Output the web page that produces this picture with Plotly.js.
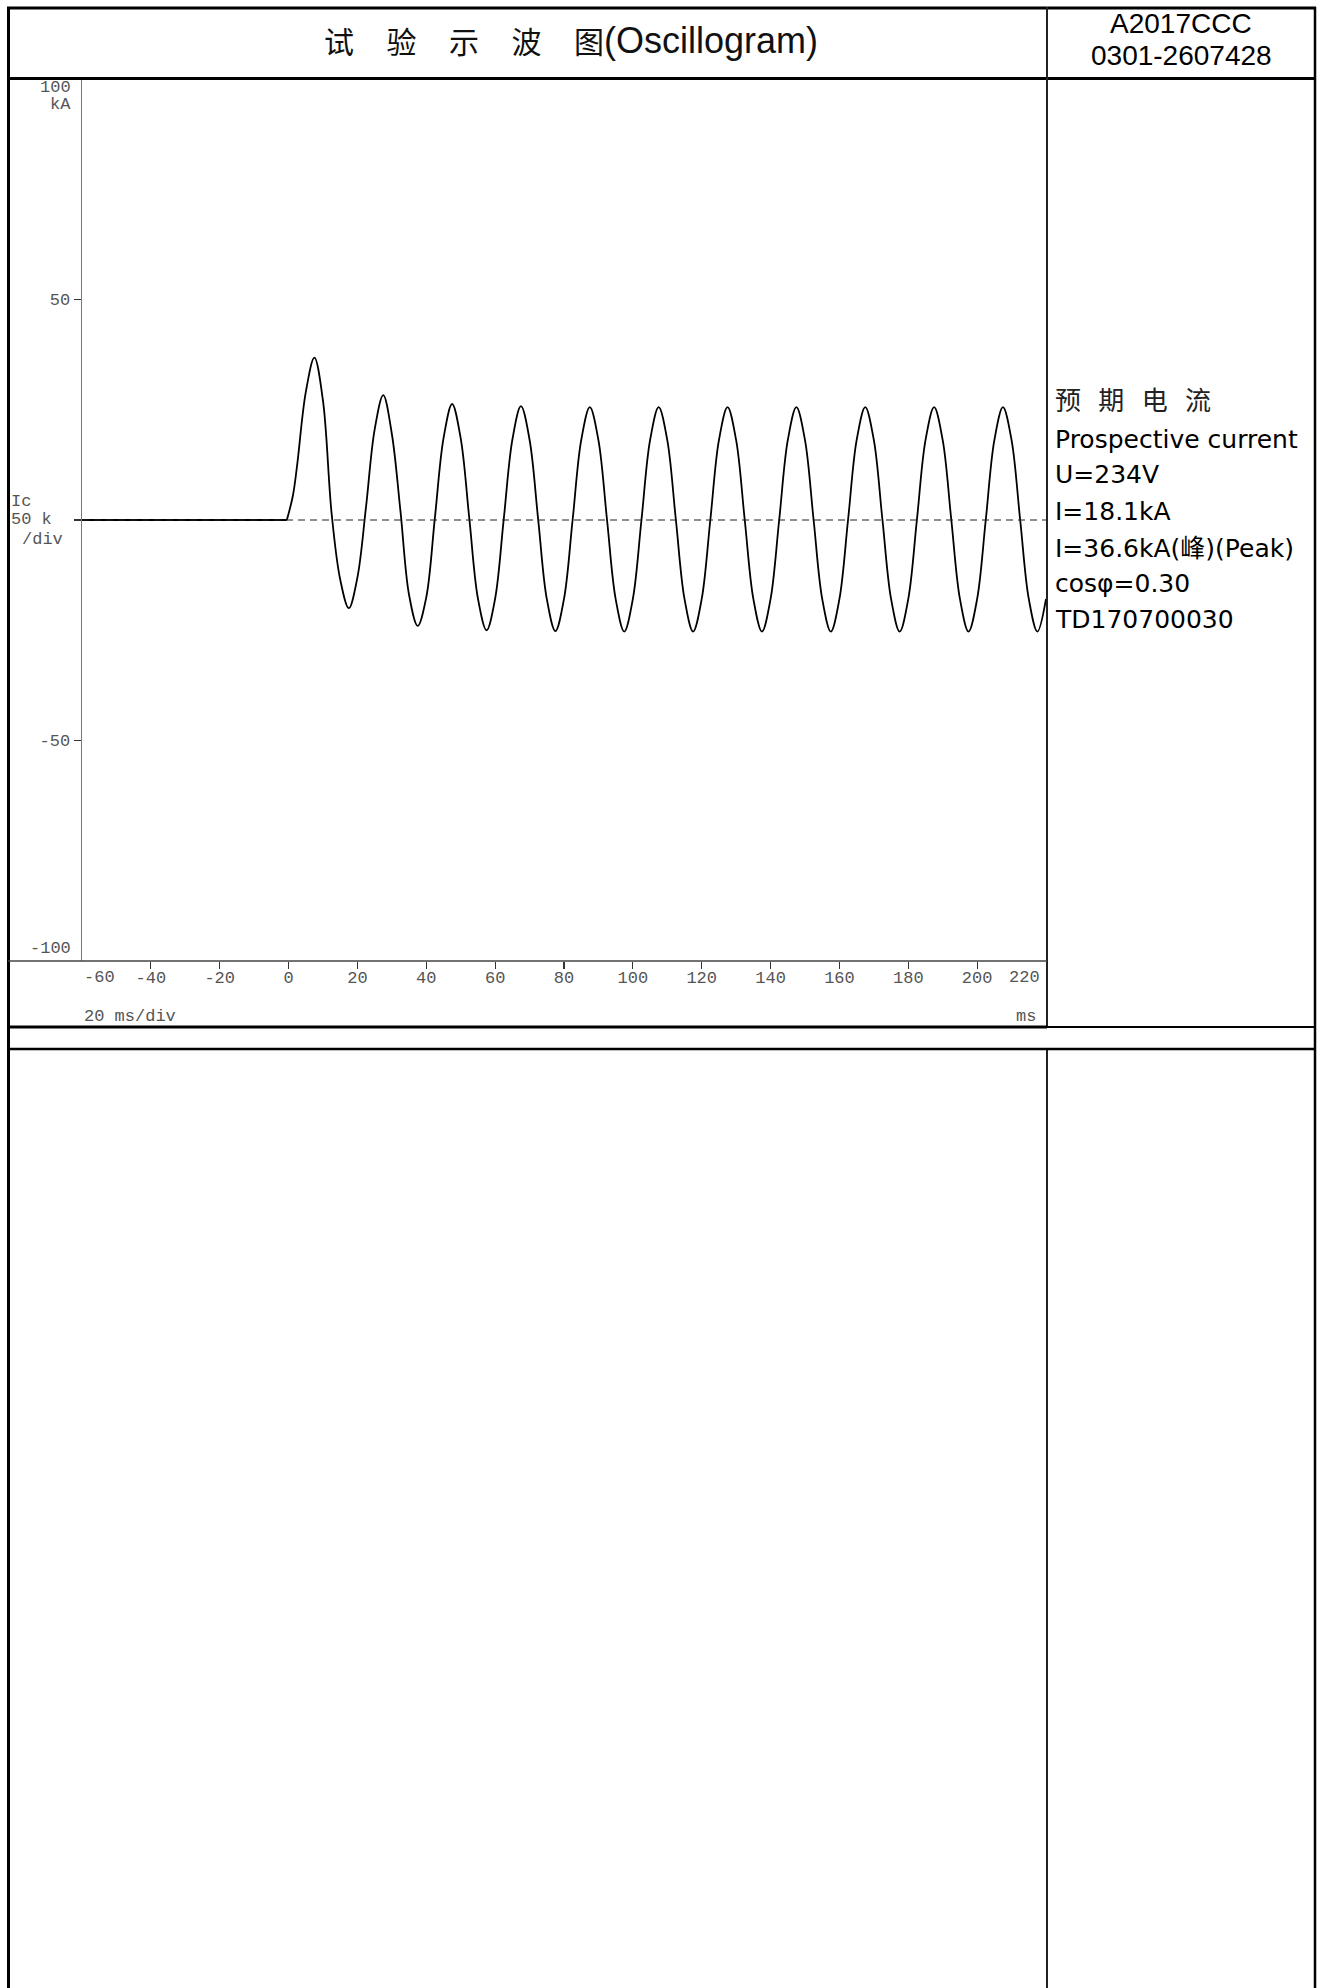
<!DOCTYPE html>
<html><head><meta charset="utf-8">
<script src="https://cdn.plot.ly/plotly-3.0.1.min.js"></script>
<style>html,body{margin:0;padding:0;background:#fff;} #chart{width:1324px;height:1988px;}</style>
</head><body><div id="chart"></div>
<script>
// ---------------- data ----------------
const preTriggerMs = [-60, -0.5];
const preTriggerKA = [0, 0];

const timeMs = [-0.5, 1.25, 2.5, 5, 7.5, 10, 12.5, 15, 17.5, 20,
  22.5, 25, 27.5, 30, 32.5, 35, 37.5, 40,
  42.5, 45, 47.5, 50, 52.5, 55, 57.5, 60,
  62.5, 65, 67.5, 70, 72.5, 75, 77.5, 80,
  82.5, 85, 87.5, 90, 92.5, 95, 97.5, 100,
  102.5, 105, 107.5, 110, 112.5, 115, 117.5, 120,
  122.5, 125, 127.5, 130, 132.5, 135, 137.5, 140,
  142.5, 145, 147.5, 150, 152.5, 155, 157.5, 160,
  162.5, 165, 167.5, 170, 172.5, 175, 177.5, 180,
  182.5, 185, 187.5, 190, 192.5, 195, 197.5, 200,
  202.5, 205, 207.5, 210, 212.5, 215, 217.5, 220];

const currentKA = [0, 5.5, 12.5, 29.0, 36.8, 27.0, 1.5, -13.5, -20.0, -13.0,
  3.0, 20.5, 28.3, 19.5, 2.0, -17.0, -24.0, -17.5,
  0.5, 18.5, 26.3, 18.5, 0.3, -17.8, -25.0, -17.8,
  0.2, 18.2, 25.8, 18.2, 0.1, -17.9, -25.2, -17.9,
  0, 18.1, 25.6, 18.1, 0, -17.9, -25.3, -17.9,
  0, 18.1, 25.6, 18.1, 0, -17.9, -25.3, -17.9,
  0, 18.1, 25.6, 18.1, 0, -17.9, -25.3, -17.9,
  0, 18.1, 25.6, 18.1, 0, -17.9, -25.3, -17.9,
  0, 18.1, 25.6, 18.1, 0, -17.9, -25.3, -17.9,
  0, 18.1, 25.6, 18.1, 0, -17.9, -25.3, -17.9,
  0, 18.1, 25.6, 18.1, 0, -17.9, -25.3, -17.9];

const xRange = [-60, 220];
const yRange = [-100, 100];
const xTickVals = [-40, -20, 0, 20, 40, 60, 80, 100, 120, 140, 160, 180, 200];
const xTickText = ["-40", "-20", "0", "20", "40", "60", "80", "100", "120", "140", "160", "180", "200"];
const xEdgeLabels = ["-60", "220"];
const yTickVals = [50, 0, -50];
const yTickText = ["50", "", "-50"];
const yEdgeLabels = ["100", "-100"];
const yUnitLabel = "kA";
const channelLabel = ["Ic", "50 k", "/div"];
const xScaleLabel = "20 ms/div";
const xUnitLabel = "ms";

const titleCN = "试\u3000\u200A验\u3000\u200A示\u3000\u200A波\u3000\u200A图";
const titleEN = "(Oscillogram)";
const reportNo = ["A2017CCC", "0301-2607428"];
const infoLines = ["预\u2002\u2006期\u2002\u2006电\u2002\u2006流", "Prospective current", "U=234V",
  "I=18.1kA", "I=36.6kA(峰)(Peak)", "cosφ=0.30", "TD170700030"];

// ---------------- layout geometry (pixels) ----------------
const W = 1324, H = 1988;
const L = 82, R = 1046, T = 79, B = 961;
const px = X => (X - L) / (R - L);
const py = Y => (B - Y) / (B - T);

const mono = {family: "Liberation Mono, Courier New, monospace", size: 17, color: "#555"};
const sans = "Liberation Sans, Arial, Noto Sans CJK SC, sans-serif";
const infoFont = "DejaVu Sans, Noto Sans CJK SC, sans-serif";

function hline(Y, X0, X1, w, c) {
  return {type: "line", xref: "paper", yref: "paper", x0: px(X0), x1: px(X1), y0: py(Y), y1: py(Y),
          line: {color: c || "#000", width: w}};
}
function vline(X, Y0, Y1, w, c) {
  return {type: "line", xref: "paper", yref: "paper", x0: px(X), x1: px(X), y0: py(Y0), y1: py(Y1),
          line: {color: c || "#000", width: w}};
}
function ann(text, X, Y, xanchor, font) {
  return {text: text, xref: "paper", yref: "paper", x: px(X), y: py(Y), xanchor: xanchor,
          yanchor: "middle", showarrow: false, font: font, borderpad: 0};
}

const shapes = [
  vline(8.5, 7, H + 5, 3),            // outer left
  hline(8, 7, 1316, 3),               // outer top
  vline(1315, 7, H + 5, 2.5),         // outer right
  hline(78.5, 7, 1316, 3),            // header bottom
  vline(1047, 7, 1027, 2, "#222"),    // divider upper
  vline(1047, 1049, H + 5, 2, "#222"),// divider lower
  hline(961, 8, 1047, 1.5, "#444"),   // x axis line
  hline(1027, 8, 1047, 3),            // band top (left)
  hline(1027, 1047, 1315, 2),         // band top (right)
  hline(1049, 8, 1315, 2.5),          // band bottom
  {type: "line", xref: "x", yref: "y", x0: xRange[0], x1: xRange[1], y0: 0, y1: 0,
   line: {color: "#222", width: 1, dash: "7px,5px"}}
];

const annotations = [
  ann(yEdgeLabels[0], 72, 87, "right", mono),
  ann(yUnitLabel, 72, 105, "right", mono),
  ann(yEdgeLabels[1], 72, 948, "right", mono),
  ann(channelLabel[0], 10, 501, "left", mono),
  ann(channelLabel[1], 10, 519, "left", mono),
  ann(channelLabel[2], 20.5, 539, "left", mono),
  ann(xEdgeLabels[0], 83, 977, "left", mono),
  ann(xEdgeLabels[1], 1041, 977, "right", mono),
  ann(xScaleLabel, 83, 1016, "left", mono),
  ann(xUnitLabel, 1037, 1016, "right", mono),
  ann(titleCN + '<span style="font-size:36px">' + titleEN + '</span>', 323, 40, "left",
      {family: sans, size: 30, color: "#111"}),
  ann(reportNo[0], 1181, 23, "center", {family: sans, size: 28, color: "#000"}),
  ann(reportNo[1], 1181, 55.5, "center", {family: sans, size: 28, color: "#000"})
];
const infoY = [401, 439, 474, 511, 548, 583, 619];
infoLines.forEach((t, i) => {
  annotations.push(ann(t, 1054, infoY[i], "left",
    {family: infoFont, size: i === 0 ? 26 : 25, color: i === 0 ? "#222" : "#000"}));
});

const traces = [
  {x: preTriggerMs, y: preTriggerKA, type: "scatter", mode: "lines",
   line: {color: "#000", width: 2}, hoverinfo: "skip"},
  {x: timeMs, y: currentKA, type: "scatter", mode: "lines",
   line: {color: "#000", width: 1.8, shape: "spline", smoothing: 1}, hoverinfo: "skip"}
];

const layout = {
  width: W, height: H, autosize: false,
  margin: {l: L, r: W - R, t: T, b: H - B, pad: 0},
  paper_bgcolor: "#fff", plot_bgcolor: "#fff",
  showlegend: false,
  font: {family: sans},
  xaxis: {range: xRange, tickmode: "array", tickvals: xTickVals, ticktext: xTickText,
          ticks: "outside", ticklen: 7, tickwidth: 1.2, tickcolor: "#333", ticklabelstandoff: -6,
          showline: false, showgrid: false, zeroline: false, tickfont: mono, fixedrange: true},
  yaxis: {range: yRange, tickmode: "array", tickvals: yTickVals, ticktext: yTickText,
          ticks: "outside", ticklen: 7, tickwidth: 1.2, tickcolor: "#333",
          showline: true, linecolor: "#777", linewidth: 1.5,
          showgrid: false, zeroline: false, tickfont: mono, fixedrange: true},
  shapes: shapes,
  annotations: annotations
};

Plotly.newPlot("chart", traces, layout, {staticPlot: true, displayModeBar: false});
</script>
</body></html>
